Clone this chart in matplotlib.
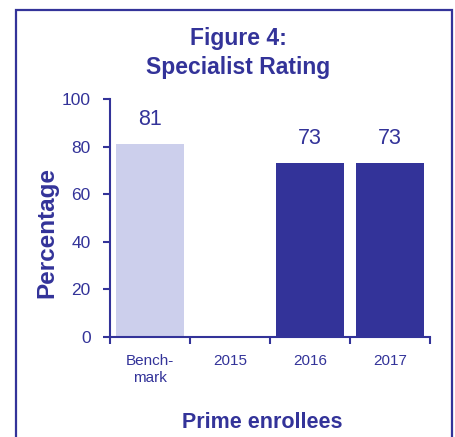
import matplotlib
matplotlib.use("Agg")
import matplotlib.pyplot as plt
from matplotlib.patches import Rectangle
import numpy as np

categories = ["Bench-\nmark", "2015", "2016", "2017"]
values = [81, np.nan, 73, 73]
bar_colors = ["#CCCFEC", "#333399", "#333399", "#333399"]
yticks = [0, 20, 40, 60, 80, 100]

NAVY = "#333399"
plt.rcParams['font.family'] = ['Liberation Sans', 'DejaVu Sans']

fig = plt.figure(figsize=(4.56, 4.37), dpi=100)
W, H = 456, 437

# border box
fig.patches.append(Rectangle((16 / W, -0.05), (452 - 16) / W, 1.05 - 10 / H,
                             transform=fig.transFigure, fill=False,
                             edgecolor=NAVY, linewidth=1.6))

ax = fig.add_axes([110 / W, 1 - 337 / H, (430 - 110) / W, (337 - 99) / H])
x = np.arange(len(categories))
ax.bar(x, values, width=0.84, color=bar_colors)
for xi, v in zip(x, values):
    if not np.isnan(v):
        ax.text(xi, v + 6, f"{v:.0f}", ha="center", va="bottom",
                fontsize=15.5, color=NAVY)

ax.set_xlim(-0.5, len(categories) - 0.5)
ax.set_ylim(0, 100)
ax.set_yticks(yticks)
ax.set_yticklabels([str(t) for t in yticks])
ax.set_xticks(x)
ax.set_xticklabels(categories, fontsize=11, color=NAVY, linespacing=1.3)
ax.set_xticks(np.arange(-0.5, len(categories)), minor=True)
ax.tick_params(axis="x", which="major", length=0, pad=12)
ax.tick_params(axis="x", which="minor", length=5, width=1.5, color=NAVY, direction="out")
ax.tick_params(axis="y", length=5, width=1.5, color=NAVY, labelcolor=NAVY,
               labelsize=12.5, pad=9)
for s in ["top", "right"]:
    ax.spines[s].set_visible(False)
for s in ["left", "bottom"]:
    ax.spines[s].set_color(NAVY)
    ax.spines[s].set_linewidth(1.5)

fig.text(238 / W, 1 - 53 / H, "Figure 4:\nSpecialist Rating", ha="center", va="center",
         fontsize=16.5, fontweight="bold", color=NAVY, linespacing=1.35)
fig.text(47 / W, 1 - 233 / H, "Percentage", rotation=90, ha="center", va="center",
         fontsize=17.5, fontweight="bold", color=NAVY)
fig.text(262 / W, 1 - 422 / H, "Prime enrollees", ha="center", va="center",
         fontsize=15.5, fontweight="bold", color=NAVY)

fig.savefig("out.png", dpi=100)
